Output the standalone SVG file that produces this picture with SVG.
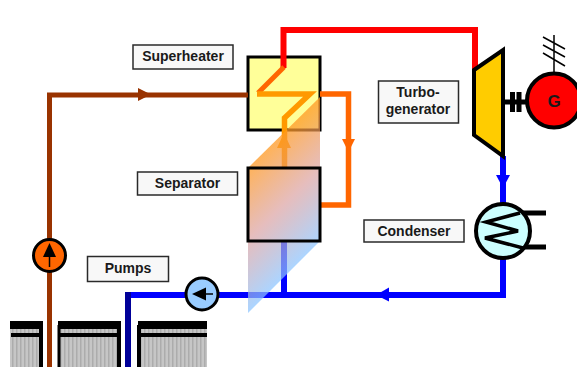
<svg xmlns="http://www.w3.org/2000/svg" width="577" height="367" viewBox="0 0 577 367">
<style>
.lb{fill:#f8f8f8;stroke:#2a2a2a;stroke-width:1.500}
.t{font-family:"Liberation Sans",Arial,sans-serif;font-weight:bold;font-size:14px;fill:#1a1a1a;text-anchor:middle}
.p{fill:none;stroke-linejoin:miter}
.k{fill:none;stroke:#000}
</style>
<defs>
<linearGradient id="g" gradientUnits="userSpaceOnUse" x1="248" y1="168" x2="320" y2="241">
<stop offset="0" stop-color="#ff9922" stop-opacity=".75"/>
<stop offset=".5" stop-color="#d89a9a" stop-opacity=".65"/>
<stop offset="1" stop-color="#8cc4ff" stop-opacity=".72"/>
</linearGradient>
<pattern id="h" width="4" height="10" patternUnits="userSpaceOnUse">
<rect width="4" height="10" fill="#c6c6c6"/><rect width="1.500" height="10" fill="#acacac"/>
</pattern>
</defs>
<g id="fuel">
<rect x="10" y="321" width="33" height="46" fill="url(#h)"/>
<rect x="58" y="321" width="63" height="46" fill="url(#h)"/>
<rect x="138" y="321" width="69" height="46" fill="url(#h)"/>
<g fill="#000">
<rect x="10" y="321" width="33" height="8"/><rect x="11" y="333" width="32" height="4"/><rect x="39" y="329" width="4" height="38"/>
<rect x="58" y="321" width="63" height="8"/><rect x="58" y="333" width="63" height="4"/><rect x="57.500" y="325" width="3" height="42"/><rect x="117" y="329" width="4" height="38"/>
<rect x="138" y="321" width="69" height="8"/><rect x="138" y="333" width="69" height="4"/><rect x="137" y="325" width="4" height="42"/>
</g>
</g>
<g id="superheater-box"><rect x="248" y="57" width="72" height="73" fill="#ffff99" stroke="#000" stroke-width="3"/></g>
<g id="connectors">
<path class="p" d="M49.500 367V95H248" stroke="#993300" stroke-width="5"/>
<path fill="#993300" d="M138 88L151 94.500 138 101Z"/>
<path class="p" d="M283.500 68V30H475V72" stroke="#ff0000" stroke-width="6"/>
<path class="p" d="M284 67L258 93" stroke="#ff6600" stroke-width="5"/>
<path class="p" d="M257 94H310L284.500 118V168" stroke="#ff9900" stroke-width="5.500"/>
<path fill="#ff9900" d="M284 133L291 148H277Z"/>
<path class="p" d="M320 94H348.500V205H320" stroke="#ff6600" stroke-width="5.500"/>
<path fill="#ff6600" d="M342 139H355L348.500 152Z"/>
<path class="p" d="M503 156V205M503 258V295H128" stroke="#0000ff" stroke-width="6"/>
<path class="p" d="M284 241V295" stroke="#0000ff" stroke-width="6"/>
<path fill="#0000ff" d="M496 175H510L503 188Z"/>
<path fill="#0000ff" d="M389 287.500V301.500L376 295Z"/>
<path class="p" d="M128 292V367" stroke="#000099" stroke-width="6"/>
</g>
<g id="gradient"><path d="M320 97L248 168V313L320 241Z" fill="url(#g)"/></g>
<g id="separator"><rect x="248" y="168" width="72" height="73" fill="none" stroke="#000" stroke-width="3"/></g>
<g id="pump-feed">
<circle cx="49.500" cy="255.500" r="16" fill="#ff6600" stroke="#000" stroke-width="3"/>
<path d="M49.500 243L56 257H43Z" fill="#000"/><path class="k" stroke-width="1.500" d="M49.500 255V267"/>
</g>
<g id="pump-condensate">
<circle cx="202" cy="294" r="16" fill="#99ccff" stroke="#000" stroke-width="3"/>
<path d="M192 294L206 287.500V300.500Z" fill="#000"/><path class="k" stroke-width="1.500" d="M204 294H213"/>
</g>
<g id="turbine"><path d="M474 70L503 50V156L474 135Z" fill="#ffcc00" stroke="#000" stroke-width="4"/></g>
<g id="generator">
<path class="k" stroke-width="5" d="M503 102H527M512.500 92V112M519 92V112"/>
<path class="k" stroke-width="1.500" d="M554 35V74M543 37L565 49M543 45L565 57M543 53L565 66"/>
<circle cx="554" cy="100.500" r="27" fill="#ff0000" stroke="#000" stroke-width="4"/>
<text x="554" y="106.500" font-family="Liberation Sans,Arial,sans-serif" font-weight="bold" font-size="17" text-anchor="middle" fill="#1a1a1a">G</text>
</g>
<g id="condenser">
<path class="k" stroke-width="5" d="M520 213H546M520 247H546"/>
<circle cx="503" cy="231" r="27" fill="#ccffff" stroke="#000" stroke-width="4"/>
<path class="k" stroke-width="3.500" d="M520 213L486 222L518 231L485 238L523 248"/>
</g>
<g id="label-superheater"><rect class="lb" x="133" y="45" width="100" height="24"/><text class="t" x="183" y="61">Superheater</text></g>
<g id="label-separator"><rect class="lb" x="137.500" y="172" width="100" height="23"/><text class="t" x="187.500" y="188">Separator</text></g>
<g id="label-pumps"><rect class="lb" x="87.500" y="256.500" width="81" height="25"/><text class="t" x="128" y="273">Pumps</text></g>
<g id="label-condenser"><rect class="lb" x="364" y="220" width="100" height="22"/><text class="t" x="414" y="236">Condenser</text></g>
<g id="label-turbogenerator"><rect class="lb" x="378.500" y="81" width="80" height="42"/><text class="t" x="418" y="97">Turbo-</text><text class="t" x="418" y="114">generator</text></g>
</svg>
